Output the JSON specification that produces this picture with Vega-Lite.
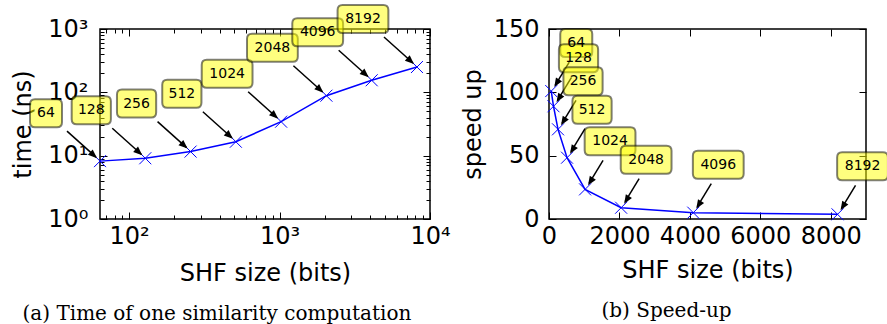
{
  "$schema": "https://vega.github.io/schema/vega-lite/v6.json",
  "autosize": {"type": "pad"},
  "padding": {"left": 11, "top": 0, "right": 0, "bottom": 0},
  "bounds": "flush",
  "spacing": 119,
  "background": "white",
  "datasets": {
    "perf": [
      {"bits": 64, "time": 8.2, "speedup": 101},
      {"bits": 128, "time": 9.1, "speedup": 89},
      {"bits": 256, "time": 11.6, "speedup": 70.8},
      {"bits": 512, "time": 16.6, "speedup": 48.4},
      {"bits": 1024, "time": 34.4, "speedup": 23.4},
      {"bits": 2048, "time": 88.5, "speedup": 8.9},
      {"bits": 4096, "time": 155, "speedup": 5},
      {"bits": 8192, "time": 251, "speedup": 3.7}
    ]
  },
  "config": {
    "view": {"stroke": "black", "strokeWidth": 1.5},
    "axis": {
      "domain": false, "grid": false,
      "labelFont": "DejaVu Sans", "labelFontSize": 24, "labelColor": "black",
      "titleFont": "DejaVu Sans", "titleFontSize": 24, "titleFontWeight": "normal", "titleColor": "black",
      "tickColor": "black", "tickWidth": 1,
      "labelFlush": false, "labelOverlap": false, "labelBound": false
    },
    "title": {"font": "DejaVu Serif", "fontSize": 20, "fontWeight": "normal", "color": "black"}
  },
  "hconcat": [
    {
      "width": 330, "height": 190,
      "title": {"text": "(a) Time of one similarity computation", "orient": "bottom", "frame": "bounds", "offset": 19, "dx": -14},
      "data": {"name": "perf"},
      "resolve": {"axis": {"x": "independent", "y": "independent"}},
      "layer": [
        {
          "mark": {"type": "line", "color": "#0000ff", "strokeWidth": 1.5},
          "encoding": {
            "x": {"field": "bits", "type": "quantitative",
              "scale": {"type": "log", "domain": [64, 10000], "nice": false},
              "axis": {"orient": "bottom", "title": "SHF size (bits)",
                "values": [70, 80, 90, 100, 200, 300, 400, 500, 600, 700, 800, 900, 1000, 2000, 3000, 4000, 5000, 6000, 7000, 8000, 9000, 10000],
                "labelExpr": "indexof([1,10,100,1000,10000], datum.value) < 0 ? '' : '10' + (datum.value >= 10000 ? '⁴' : datum.value >= 1000 ? '³' : datum.value >= 100 ? '²' : datum.value >= 10 ? '¹' : '⁰')",
                "tickSize": {"condition": {"test": "indexof([1,10,100,1000,10000], datum.value) >= 0", "value": -7}, "value": -4},
                "labelPadding": 12, "titlePadding": 10}},
            "y": {"field": "time", "type": "quantitative",
              "scale": {"type": "log", "domain": [1, 1000], "nice": false},
              "axis": {"orient": "left", "title": "time (ns)",
                "values": [1, 2, 3, 4, 5, 6, 7, 8, 9, 10, 20, 30, 40, 50, 60, 70, 80, 90, 100, 200, 300, 400, 500, 600, 700, 800, 900, 1000],
                "labelExpr": "indexof([1,10,100,1000,10000], datum.value) < 0 ? '' : '10' + (datum.value >= 1000 ? '³' : datum.value >= 100 ? '²' : datum.value >= 10 ? '¹' : '⁰')",
                "tickSize": {"condition": {"test": "indexof([1,10,100,1000,10000], datum.value) >= 0", "value": -7}, "value": -4},
                "labelPadding": 19, "titlePadding": 12}}
          }
        },
        {
          "mark": {"type": "point", "shape": "M-1,-1L1,1M-1,1L1,-1", "filled": false, "color": "#0000ff", "strokeWidth": 1, "size": 144, "opacity": 1},
          "encoding": {
            "x": {"field": "bits", "type": "quantitative",
              "axis": {"orient": "top", "title": null, "labels": false,
                "values": [70, 80, 90, 100, 200, 300, 400, 500, 600, 700, 800, 900, 1000, 2000, 3000, 4000, 5000, 6000, 7000, 8000, 9000, 10000],
                "tickSize": {"condition": {"test": "indexof([1,10,100,1000,10000], datum.value) >= 0", "value": -7}, "value": -4}}},
            "y": {"field": "time", "type": "quantitative",
              "axis": {"orient": "right", "title": null, "labels": false,
                "values": [1, 2, 3, 4, 5, 6, 7, 8, 9, 10, 20, 30, 40, 50, 60, 70, 80, 90, 100, 200, 300, 400, 500, 600, 700, 800, 900, 1000],
                "tickSize": {"condition": {"test": "indexof([1,10,100,1000,10000], datum.value) >= 0", "value": -7}, "value": -4}}}
          }
        },
        {
          "mark": {"type": "rule", "color": "black", "strokeWidth": 1.5, "xOffset": -33, "yOffset": -30, "x2Offset": -4, "y2Offset": -4},
          "encoding": {
            "x": {"field": "bits", "type": "quantitative", "axis": null},
            "x2": {"field": "bits"},
            "y": {"field": "time", "type": "quantitative", "axis": null},
            "y2": {"field": "time"}
          }
        },
        {
          "mark": {"type": "point", "shape": "M0,0L-1,-0.4L-1,0.4Z", "filled": true, "color": "black", "opacity": 1, "size": 324, "angle": 42, "xOffset": -3, "yOffset": -3},
          "encoding": {
            "x": {"field": "bits", "type": "quantitative", "axis": null},
            "y": {"field": "time", "type": "quantitative", "axis": null}
          }
        },
        {
          "mark": {"type": "point", "filled": true, "fill": "#ffff00", "fillOpacity": 0.5, "stroke": "black", "strokeOpacity": 0.5, "strokeWidth": 2, "size": 1600, "xOffset": -54, "yOffset": -48},
          "encoding": {
            "x": {"field": "bits", "type": "quantitative", "axis": null},
            "y": {"field": "time", "type": "quantitative", "axis": null},
            "shape": {"condition": [
              {"test": "datum.bits < 100", "value": "M-0.55,-0.7L0.55,-0.7Q0.8,-0.7 0.8,-0.45L0.8,0.45Q0.8,0.7 0.55,0.7L-0.55,0.7Q-0.8,0.7 -0.8,0.45L-0.8,-0.45Q-0.8,-0.7 -0.55,-0.7Z"},
              {"test": "datum.bits < 1000", "value": "M-0.73,-0.7L0.73,-0.7Q0.98,-0.7 0.98,-0.45L0.98,0.45Q0.98,0.7 0.73,0.7L-0.73,0.7Q-0.98,0.7 -0.98,0.45L-0.98,-0.45Q-0.98,-0.7 -0.73,-0.7Z"}
            ], "value": "M-1.02,-0.7L1.02,-0.7Q1.27,-0.7 1.27,-0.45L1.27,0.45Q1.27,0.7 1.02,0.7L-1.02,0.7Q-1.27,0.7 -1.27,0.45L-1.27,-0.45Q-1.27,-0.7 -1.02,-0.7Z"}
          }
        },
        {
          "mark": {"type": "text", "font": "DejaVu Sans", "fontSize": 14, "color": "black", "align": "center", "baseline": "middle", "xOffset": -54, "yOffset": -48},
          "encoding": {
            "x": {"field": "bits", "type": "quantitative", "axis": null},
            "y": {"field": "time", "type": "quantitative", "axis": null},
            "text": {"field": "bits", "type": "nominal"}
          }
        }
      ]
    },
    {
      "width": 317, "height": 190,
      "title": {"text": "(b) Speed-up", "orient": "bottom", "frame": "bounds", "offset": 19, "dx": -10},
      "data": {"name": "perf"},
      "resolve": {"axis": {"x": "independent", "y": "independent"}},
      "layer": [
        {
          "mark": {"type": "line", "color": "#0000ff", "strokeWidth": 1.5},
          "encoding": {
            "x": {"field": "bits", "type": "quantitative",
              "scale": {"domain": [0, 9000], "nice": false},
              "axis": {"orient": "bottom", "title": "SHF size (bits)", "values": [0, 2000, 4000, 6000, 8000], "format": "d", "tickSize": -7, "labelPadding": 12, "titlePadding": 10}},
            "y": {"field": "speedup", "type": "quantitative",
              "scale": {"domain": [0, 150], "nice": false},
              "axis": {"orient": "left", "title": "speed up", "values": [0, 50, 100, 150], "tickSize": -7, "labelPadding": 17, "titlePadding": 8}}
          }
        },
        {
          "mark": {"type": "point", "shape": "M-1,-1L1,1M-1,1L1,-1", "filled": false, "color": "#0000ff", "strokeWidth": 1, "size": 144, "opacity": 1},
          "encoding": {
            "x": {"field": "bits", "type": "quantitative",
              "axis": {"orient": "top", "title": null, "labels": false, "values": [0, 2000, 4000, 6000, 8000], "tickSize": -7}},
            "y": {"field": "speedup", "type": "quantitative",
              "axis": {"orient": "right", "title": null, "labels": false, "values": [0, 50, 100, 150], "tickSize": -7}}
          }
        },
        {
          "mark": {"type": "rule", "color": "black", "strokeWidth": 1.5, "xOffset": 18, "yOffset": -29, "x2Offset": 4, "y2Offset": -6},
          "encoding": {
            "x": {"field": "bits", "type": "quantitative", "axis": null},
            "x2": {"field": "bits"},
            "y": {"field": "speedup", "type": "quantitative", "axis": null},
            "y2": {"field": "speedup"}
          }
        },
        {
          "mark": {"type": "point", "shape": "M0,0L-1,-0.4L-1,0.4Z", "filled": true, "color": "black", "opacity": 1, "size": 324, "angle": 122, "xOffset": 3, "yOffset": -4},
          "encoding": {
            "x": {"field": "bits", "type": "quantitative", "axis": null},
            "y": {"field": "speedup", "type": "quantitative", "axis": null}
          }
        },
        {
          "mark": {"type": "point", "filled": true, "fill": "#ffff00", "fillOpacity": 0.5, "stroke": "black", "strokeOpacity": 0.5, "strokeWidth": 2, "size": 1600, "xOffset": 25, "yOffset": -48},
          "encoding": {
            "x": {"field": "bits", "type": "quantitative", "axis": null},
            "y": {"field": "speedup", "type": "quantitative", "axis": null},
            "shape": {"condition": [
              {"test": "datum.bits < 100", "value": "M-0.55,-0.7L0.55,-0.7Q0.8,-0.7 0.8,-0.45L0.8,0.45Q0.8,0.7 0.55,0.7L-0.55,0.7Q-0.8,0.7 -0.8,0.45L-0.8,-0.45Q-0.8,-0.7 -0.55,-0.7Z"},
              {"test": "datum.bits < 1000", "value": "M-0.73,-0.7L0.73,-0.7Q0.98,-0.7 0.98,-0.45L0.98,0.45Q0.98,0.7 0.73,0.7L-0.73,0.7Q-0.98,0.7 -0.98,0.45L-0.98,-0.45Q-0.98,-0.7 -0.73,-0.7Z"}
            ], "value": "M-1.02,-0.7L1.02,-0.7Q1.27,-0.7 1.27,-0.45L1.27,0.45Q1.27,0.7 1.02,0.7L-1.02,0.7Q-1.27,0.7 -1.27,0.45L-1.27,-0.45Q-1.27,-0.7 -1.02,-0.7Z"}
          }
        },
        {
          "mark": {"type": "text", "font": "DejaVu Sans", "fontSize": 14, "color": "black", "align": "center", "baseline": "middle", "xOffset": 25, "yOffset": -48},
          "encoding": {
            "x": {"field": "bits", "type": "quantitative", "axis": null},
            "y": {"field": "speedup", "type": "quantitative", "axis": null},
            "text": {"field": "bits", "type": "nominal"}
          }
        }
      ]
    }
  ]
}
